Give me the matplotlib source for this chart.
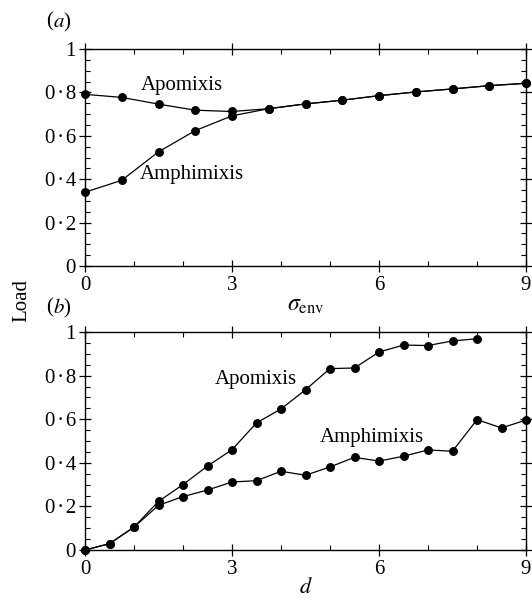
import matplotlib
matplotlib.use("Agg")
import matplotlib.pyplot as plt
from matplotlib.ticker import MultipleLocator, FuncFormatter

plt.rcParams['font.family'] = ['Liberation Serif', 'DejaVu Serif']
plt.rcParams['mathtext.fontset'] = 'stix'

# ---- data: panel (a) ----
sigma_env = [0, 0.75, 1.5, 2.25, 3, 3.75, 4.5, 5.25, 6, 6.75, 7.5, 8.25, 9]
a_apomixis = [0.791, 0.777, 0.746, 0.718, 0.712, 0.725, 0.747, 0.764, 0.785, 0.802, 0.816, 0.831, 0.842]
a_amphimixis = [0.34, 0.395, 0.526, 0.624, 0.692, 0.725, 0.747, 0.764, 0.785, 0.802, 0.816, 0.831, 0.842]

# ---- data: panel (b) ----
d_apo = [0, 0.5, 1, 1.5, 2, 2.5, 3, 3.5, 4, 4.5, 5, 5.5, 6, 6.5, 7, 7.5, 8]
b_apomixis = [0.0, 0.029, 0.105, 0.223, 0.30, 0.385, 0.46, 0.583, 0.647, 0.735, 0.832,
              0.835, 0.908, 0.940, 0.938, 0.959, 0.969]
d_amp = [0, 0.5, 1, 1.5, 2, 2.5, 3, 3.5, 4, 4.5, 5, 5.5, 6, 6.5, 7, 7.5, 8, 8.5, 9]
b_amphimixis = [0.0, 0.029, 0.105, 0.205, 0.245, 0.275, 0.312, 0.318, 0.361, 0.343, 0.381,
                0.425, 0.408, 0.430, 0.459, 0.453, 0.598, 0.560, 0.596]

x_ticks = [0, 3, 6, 9]
y_ticks = [0, 0.2, 0.4, 0.6, 0.8, 1.0]

W, H = 532, 597
fig = plt.figure(figsize=(W / 100, H / 100), dpi=100)

def frac_x(px):
    return px / W

def frac_y(py):
    return 1 - py / H

left, right = 85, 526
ax1 = fig.add_axes([frac_x(left), frac_y(266), frac_x(right - left), (266 - 49) / H])
ax2 = fig.add_axes([frac_x(left), frac_y(550), frac_x(right - left), (550 - 332) / H])

def yfmt(v, pos):
    if abs(v) < 1e-9:
        return "0"
    if abs(v - 1) < 1e-9:
        return "1"
    return f"{v:.1f}".replace(".", "\u200a\u00b7\u200a")

FS = 15
line_kw = dict(color='black', lw=0.9, marker='o', ms=5.4, mfc='black', mec='black', clip_on=False, zorder=3)

for ax in (ax1, ax2):
    ax.set_xlim(0, 9)
    ax.set_ylim(0, 1)
    ax.xaxis.set_major_locator(plt.FixedLocator(x_ticks))
    ax.yaxis.set_major_locator(plt.FixedLocator(y_ticks))
    ax.xaxis.set_minor_locator(MultipleLocator(1))
    ax.yaxis.set_minor_locator(MultipleLocator(0.05))
    ax.xaxis.set_major_formatter(FuncFormatter(lambda v, p: f"{v:g}"))
    ax.yaxis.set_major_formatter(FuncFormatter(yfmt))
    ax.tick_params(which='major', direction='inout', length=9, width=0.9,
                   top=True, right=True, labelsize=FS, pad=2)
    ax.tick_params(which='minor', direction='in', length=3.5, width=0.8,
                   top=True, right=True)
    ax.tick_params(axis='x', which='major', pad=3)
    for s in ax.spines.values():
        s.set_linewidth(1.0)

ax1.plot(sigma_env, a_apomixis, **line_kw)
ax1.plot(sigma_env, a_amphimixis, **line_kw)
ax1.text(1.13, 0.833, "Apomixis", fontsize=15, ha='left', va='center')
ax1.text(1.12, 0.42, "Amphimixis", fontsize=15, ha='left', va='center')

ax2.plot(d_apo, b_apomixis, **line_kw)
ax2.plot(d_amp, b_amphimixis, **line_kw)
ax2.text(2.65, 0.78, "Apomixis", fontsize=15, ha='left', va='center')
ax2.text(4.8, 0.517, "Amphimixis", fontsize=15, ha='left', va='center')

fig.text(frac_x(306), frac_y(306), r"$\sigma_{\mathrm{env}}$", fontsize=17, ha='center', va='center')
fig.text(frac_x(306), frac_y(588), r"$d$", fontsize=16, ha='center', va='center')
fig.text(frac_x(22), frac_y(301), "Load", fontsize=15, rotation=90, ha='center', va='center')
fig.text(frac_x(53), frac_y(22), "(", fontsize=15, ha='right', va='center')
fig.text(frac_x(53), frac_y(22), r"$a$)", fontsize=15, ha='left', va='center')
fig.text(frac_x(53), frac_y(308), "(", fontsize=15, ha='right', va='center')
fig.text(frac_x(53), frac_y(308), r"$b$)", fontsize=15, ha='left', va='center')

fig.savefig("out.png", dpi=100)
